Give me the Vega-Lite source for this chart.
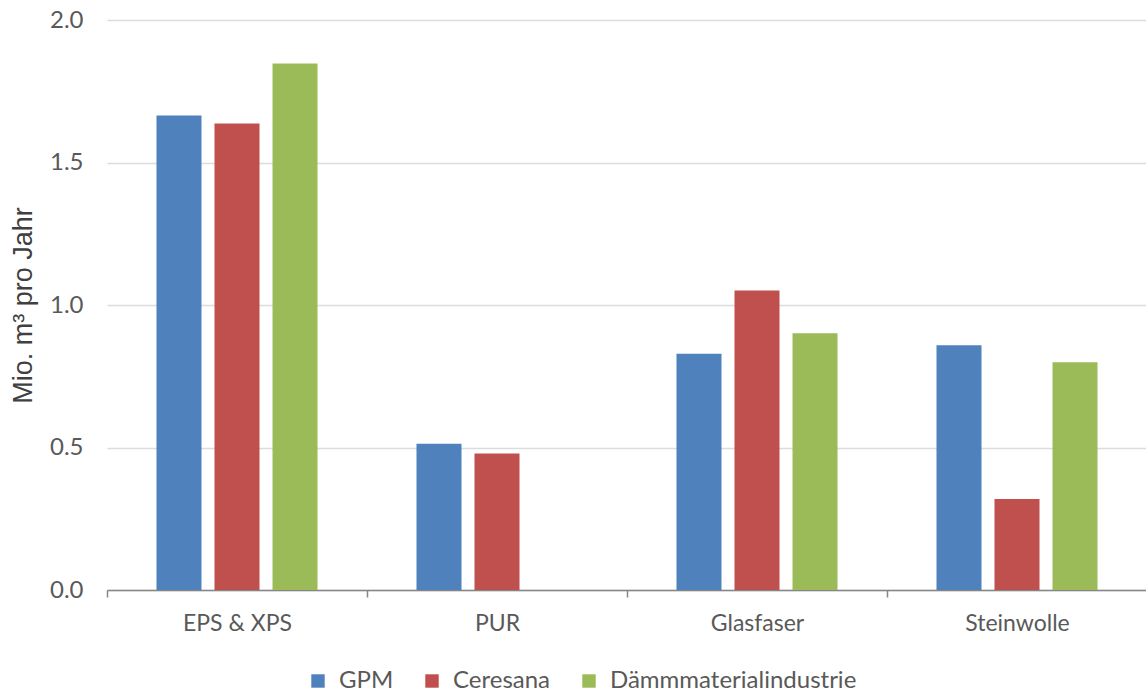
{
  "$schema": "https://vega.github.io/schema/vega-lite/v6.json",
  "autosize": {"type": "none"},
  "padding": {"left": 107, "top": 20, "right": 0, "bottom": 105},
  "width": 1040,
  "height": 570,
  "background": "white",
  "config": {
    "font": "Lato",
    "view": {"stroke": null}
  },
  "data": {
    "values": [
      {"material": "EPS & XPS", "quelle": "GPM", "wert": 1.665},
      {"material": "EPS & XPS", "quelle": "Ceresana", "wert": 1.637},
      {"material": "EPS & XPS", "quelle": "Dämmmaterialindustrie", "wert": 1.847},
      {"material": "PUR", "quelle": "GPM", "wert": 0.513},
      {"material": "PUR", "quelle": "Ceresana", "wert": 0.479},
      {"material": "Glasfaser", "quelle": "GPM", "wert": 0.829},
      {"material": "Glasfaser", "quelle": "Ceresana", "wert": 1.051},
      {"material": "Glasfaser", "quelle": "Dämmmaterialindustrie", "wert": 0.901},
      {"material": "Steinwolle", "quelle": "GPM", "wert": 0.859},
      {"material": "Steinwolle", "quelle": "Ceresana", "wert": 0.319},
      {"material": "Steinwolle", "quelle": "Dämmmaterialindustrie", "wert": 0.799}
    ]
  },
  "mark": {"type": "bar"},
  "encoding": {
    "x": {
      "field": "material",
      "type": "nominal",
      "sort": ["EPS & XPS", "PUR", "Glasfaser", "Steinwolle"],
      "scale": {"paddingInner": 0, "paddingOuter": 0},
      "axis": {
        "title": null,
        "labelAngle": 0,
        "labelFontSize": 23,
        "labelColor": "#595959",
        "labelPadding": 15,
        "domainColor": "#868686",
        "domainWidth": 1.5,
        "tickColor": "#868686",
        "tickWidth": 1.5,
        "tickSize": 7,
        "tickBand": "extent"
      }
    },
    "xOffset": {
      "field": "quelle",
      "type": "nominal",
      "sort": ["GPM", "Ceresana", "Dämmmaterialindustrie"],
      "scale": {"paddingInner": 0.224, "paddingOuter": 0.853}
    },
    "y": {
      "field": "wert",
      "type": "quantitative",
      "scale": {"domain": [0, 2], "nice": false},
      "axis": {
        "title": "Mio. m³ pro Jahr",
        "titleFont": "Liberation Sans",
        "titleFontSize": 27,
        "titleFontWeight": "normal",
        "titleColor": "#404040",
        "titlePadding": 12,
        "values": [0, 0.5, 1, 1.5, 2],
        "format": ".1f",
        "labelFontSize": 24,
        "labelColor": "#595959",
        "labelPadding": 24,
        "domain": false,
        "ticks": false,
        "gridColor": "#dcdcdc",
        "gridWidth": 1.5
      }
    },
    "color": {
      "field": "quelle",
      "type": "nominal",
      "scale": {
        "domain": ["GPM", "Ceresana", "Dämmmaterialindustrie"],
        "range": ["#4f81bd", "#c0504d", "#9bbb59"]
      },
      "legend": {
        "title": null,
        "orient": "none",
        "legendX": 199,
        "legendY": 649,
        "direction": "horizontal",
        "symbolType": "square",
        "symbolSize": 180,
        "symbolStrokeWidth": 0,
        "labelFontSize": 24,
        "labelLimit": 0,
        "labelColor": "#595959",
        "labelOffset": 9,
        "columnPadding": 26
      }
    }
  }
}
